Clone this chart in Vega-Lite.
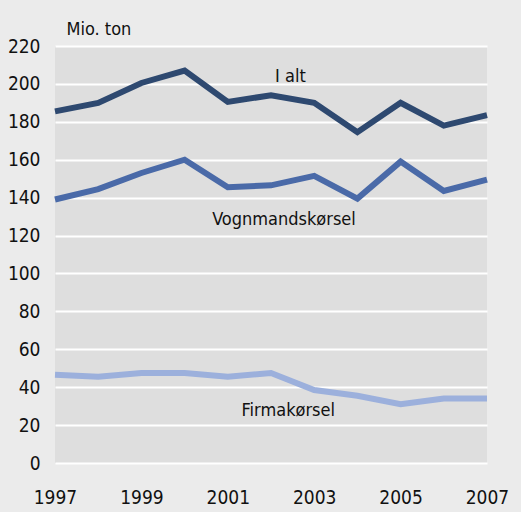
{
  "$schema": "https://vega.github.io/schema/vega-lite/v6.json",
  "width": 432,
  "height": 417,
  "autosize": {"type": "none"},
  "padding": {"left": 55, "top": 46, "right": 34, "bottom": 49},
  "background": "#ebebeb",
  "config": {
    "view": {"fill": "#dedede", "stroke": null},
    "font": "DejaVu Sans Condensed, Roboto Condensed, Roboto, sans-serif",
    "axis": {"labelFont": "DejaVu Sans Condensed, Roboto Condensed, Roboto, sans-serif", "titleFont": "DejaVu Sans Condensed, Roboto Condensed, Roboto, sans-serif", "labelColor": "#111111", "titleColor": "#111111"}
  },
  "datasets": {
    "series": [
      {"year": 1997, "series": "I alt", "value": 185.5},
      {"year": 1998, "series": "I alt", "value": 190},
      {"year": 1999, "series": "I alt", "value": 200.5},
      {"year": 2000, "series": "I alt", "value": 207},
      {"year": 2001, "series": "I alt", "value": 190.5},
      {"year": 2002, "series": "I alt", "value": 194},
      {"year": 2003, "series": "I alt", "value": 190},
      {"year": 2004, "series": "I alt", "value": 174.5},
      {"year": 2005, "series": "I alt", "value": 190},
      {"year": 2006, "series": "I alt", "value": 178},
      {"year": 2007, "series": "I alt", "value": 183.5},
      {"year": 1997, "series": "Vognmandskørsel", "value": 139},
      {"year": 1998, "series": "Vognmandskørsel", "value": 144.5},
      {"year": 1999, "series": "Vognmandskørsel", "value": 153},
      {"year": 2000, "series": "Vognmandskørsel", "value": 160},
      {"year": 2001, "series": "Vognmandskørsel", "value": 145.5},
      {"year": 2002, "series": "Vognmandskørsel", "value": 146.5},
      {"year": 2003, "series": "Vognmandskørsel", "value": 151.5},
      {"year": 2004, "series": "Vognmandskørsel", "value": 139.5},
      {"year": 2005, "series": "Vognmandskørsel", "value": 159},
      {"year": 2006, "series": "Vognmandskørsel", "value": 143.5},
      {"year": 2007, "series": "Vognmandskørsel", "value": 149.5},
      {"year": 1997, "series": "Firmakørsel", "value": 46.5},
      {"year": 1998, "series": "Firmakørsel", "value": 45.5},
      {"year": 1999, "series": "Firmakørsel", "value": 47.5},
      {"year": 2000, "series": "Firmakørsel", "value": 47.5},
      {"year": 2001, "series": "Firmakørsel", "value": 45.5},
      {"year": 2002, "series": "Firmakørsel", "value": 47.5},
      {"year": 2003, "series": "Firmakørsel", "value": 38.5},
      {"year": 2004, "series": "Firmakørsel", "value": 35.5},
      {"year": 2005, "series": "Firmakørsel", "value": 31},
      {"year": 2006, "series": "Firmakørsel", "value": 34},
      {"year": 2007, "series": "Firmakørsel", "value": 34}
    ],
    "labels": [
      {"year": 2002.45, "value": 203.5, "label": "I alt"},
      {"year": 2002.3, "value": 128, "label": "Vognmandskørsel"},
      {"year": 2002.4, "value": 27.5, "label": "Firmakørsel"}
    ]
  },
  "encoding": {
    "x": {
      "field": "year", "type": "quantitative",
      "scale": {"domain": [1997, 2007], "nice": false, "zero": false},
      "axis": {"values": [1997, 1999, 2001, 2003, 2005, 2007], "format": "d", "grid": false, "ticks": false, "domain": false, "labelFontSize": 19, "labelPadding": 25, "title": null, "labelFlush": false, "labelOverlap": false}
    },
    "y": {
      "field": "value", "type": "quantitative",
      "scale": {"domain": [0, 220], "nice": false},
      "axis": {"values": [0, 20, 40, 60, 80, 100, 120, 140, 160, 180, 200, 220], "tickCount": 12, "grid": true, "gridColor": "#ffffff", "gridWidth": 2, "gridOpacity": 1, "ticks": false, "domain": false, "labelFontSize": 19, "labelPadding": 15, "labelAlign": "right", "labelOverlap": false, "title": "Mio. ton", "titleAngle": 0, "titleAlign": "left", "titleBaseline": "middle", "titleX": 11, "titleY": -17, "titleFontSize": 18, "titleFontWeight": "normal"}
    }
  },
  "layer": [
    {
      "data": {"name": "series"},
      "mark": {"type": "line", "strokeWidth": 6, "clip": false},
      "encoding": {
        "color": {
          "field": "series", "type": "nominal",
          "scale": {"domain": ["I alt", "Vognmandskørsel", "Firmakørsel"], "range": ["#2e4970", "#4a6aa8", "#9cb0dc"]},
          "legend": null
        },
        "strokeWidth": {
          "field": "series", "type": "nominal",
          "scale": {"domain": ["I alt", "Vognmandskørsel", "Firmakørsel"], "range": [6, 6, 7]},
          "legend": null
        }
      }
    },
    {
      "data": {"name": "labels"},
      "mark": {"type": "text", "fontSize": 18, "align": "center", "baseline": "middle", "color": "#111111"},
      "encoding": {
        "text": {"field": "label"}
      }
    }
  ]
}
